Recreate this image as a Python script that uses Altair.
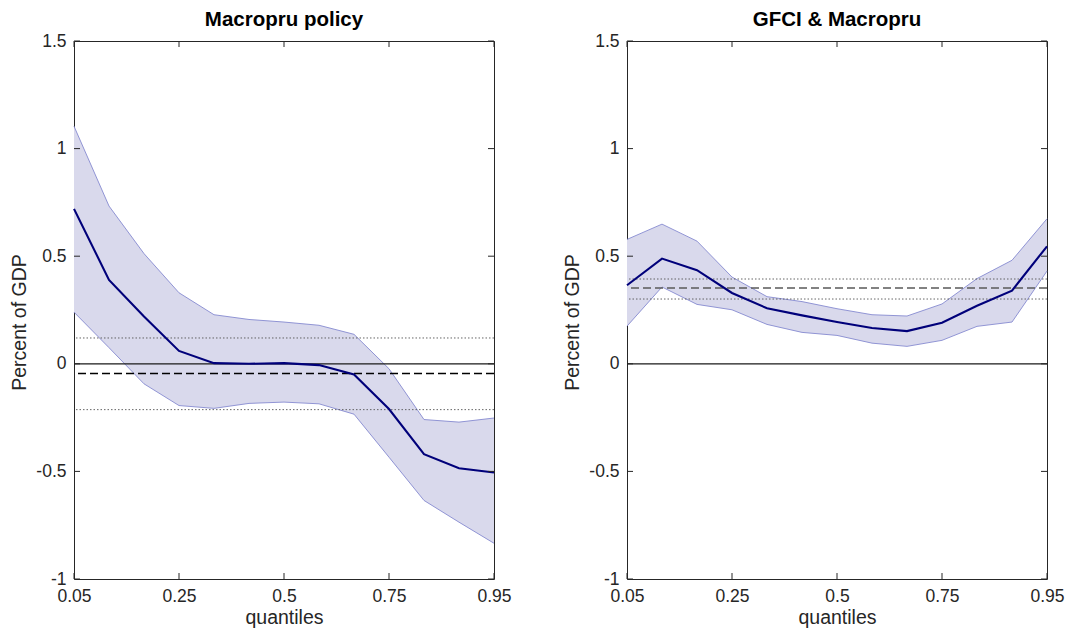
import altair as alt
import pandas as pd

# Quantile grid and axis ticks
QUANTILES = [0.05, 0.125, 0.2, 0.275, 0.35, 0.425, 0.5, 0.575, 0.65, 0.725, 0.8, 0.875, 0.95]
XTICK_POS = [0.05, 0.275, 0.5, 0.725, 0.95]
XTICK_LABELS = ["0.05", "0.25", "0.5", "0.75", "0.95"]
YTICKS = [-1, -0.5, 0, 0.5, 1, 1.5]

# Panel 1: Macropru policy
LEFT_TITLE = "Macropru policy"
LEFT_MEDIAN = [0.72, 0.39, 0.22, 0.06, 0.003, 0.0, 0.003, -0.006, -0.05, -0.21, -0.42, -0.485, -0.505]
LEFT_UPPER = [1.104, 0.733, 0.512, 0.33, 0.228, 0.206, 0.194, 0.179, 0.137, -0.023, -0.259, -0.271, -0.252]
LEFT_LOWER = [0.24, 0.075, -0.093, -0.194, -0.207, -0.184, -0.178, -0.186, -0.234, -0.434, -0.635, -0.736, -0.834]
LEFT_MEAN = -0.045
LEFT_MEAN_BAND = [0.12, -0.213]

# Panel 2: GFCI & Macropru
RIGHT_TITLE = "GFCI & Macropru"
RIGHT_MEDIAN = [0.365, 0.489, 0.435, 0.329, 0.258, 0.225, 0.194, 0.166, 0.152, 0.191, 0.27, 0.34, 0.546]
RIGHT_UPPER = [0.578, 0.649, 0.57, 0.403, 0.312, 0.289, 0.256, 0.228, 0.222, 0.278, 0.396, 0.481, 0.674]
RIGHT_LOWER = [0.175, 0.357, 0.276, 0.251, 0.183, 0.146, 0.132, 0.096, 0.081, 0.109, 0.174, 0.194, 0.431]
RIGHT_MEAN = 0.352
RIGHT_MEAN_BAND = [0.394, 0.301]

W, H = 420, 538
TICK_LEN = 6
FRAME = "#262626"
FONT = "Liberation Sans"

x_label_expr = " : ".join(
    f"abs(datum.value - {p}) < 1e-6 ? '{l}'" for p, l in zip(XTICK_POS, XTICK_LABELS)
) + " : ''"

x_scale = alt.Scale(domain=[0.05, 0.95], nice=False, zero=False)
y_scale = alt.Scale(domain=[-1, 1.5], nice=False, zero=False)

x_axis = alt.Axis(values=XTICK_POS, labelExpr=x_label_expr, ticks=False,
                  domain=False, grid=False, labelPadding=8, titlePadding=4,
                  labelFlush=False)
y_axis = alt.Axis(values=YTICKS, labelExpr="'' + datum.value", ticks=False,
                  domain=False, grid=False, labelPadding=8, titlePadding=6,
                  labelFlush=False, titleY=H / 2 + 12)


def x_enc(field):
    return alt.X(field, type="quantitative", scale=x_scale, title="quantiles", axis=x_axis)


def y_enc(field):
    return alt.Y(field, type="quantitative", scale=y_scale, title="Percent of GDP", axis=y_axis)


def panel(title, med, lo, hi, mean, mean_band, dash_color):
    df = pd.DataFrame({"q": QUANTILES, "med": med, "lo": lo, "hi": hi})
    band = alt.Chart(df).mark_area(color="#d9d9ec", opacity=1).encode(
        x=x_enc("q"), y=y_enc("lo"), y2="hi")
    upper_edge = alt.Chart(df).mark_line(color="#868ad0", strokeWidth=0.9).encode(
        x=x_enc("q"), y=y_enc("hi"))
    lower_edge = alt.Chart(df).mark_line(color="#868ad0", strokeWidth=0.9).encode(
        x=x_enc("q"), y=y_enc("lo"))

    zero = alt.Chart(pd.DataFrame({"v": [0]})).mark_rule(color="#1a1a1a", strokeWidth=1.3).encode(
        y=y_enc("v"))
    dotted = alt.Chart(pd.DataFrame({"v": mean_band})).mark_rule(
        color="#555555", strokeWidth=0.9, strokeDash=[1.5, 2]).encode(y=y_enc("v"))
    dashed = alt.Chart(pd.DataFrame({"v": [mean]})).mark_rule(
        color=dash_color, strokeWidth=1.4, strokeDash=[8, 4]).encode(y=y_enc("v"))

    median = alt.Chart(df).mark_line(color="#00007a", strokeWidth=2.1).encode(
        x=x_enc("q"), y=y_enc("med"))

    # inward-pointing ticks on all four sides of the box
    yt = pd.DataFrame({"v": YTICKS})
    xt = pd.DataFrame({"v": XTICK_POS})
    tick_style = dict(color=FRAME, strokeWidth=1)
    yt_left = alt.Chart(yt).mark_rule(**tick_style).encode(
        y=y_enc("v"), x=alt.value(0), x2=alt.value(TICK_LEN))
    yt_right = alt.Chart(yt).mark_rule(**tick_style).encode(
        y=y_enc("v"), x=alt.value(W), x2=alt.value(W - TICK_LEN))
    xt_bottom = alt.Chart(xt).mark_rule(**tick_style).encode(
        x=x_enc("v"), y=alt.value(H), y2=alt.value(H - TICK_LEN))
    xt_top = alt.Chart(xt).mark_rule(**tick_style).encode(
        x=x_enc("v"), y=alt.value(0), y2=alt.value(TICK_LEN))

    return alt.layer(
        band, upper_edge, lower_edge, zero, dotted, dashed, median,
        yt_left, yt_right, xt_bottom, xt_top,
    ).properties(
        width=W, height=H,
        title=alt.TitleParams(title, fontSize=20.5, fontWeight="bold", font=FONT,
                              color="#000000", offset=2, anchor="middle"),
    )


left = panel(LEFT_TITLE, LEFT_MEDIAN, LEFT_LOWER, LEFT_UPPER, LEFT_MEAN, LEFT_MEAN_BAND, "#000000")
right = panel(RIGHT_TITLE, RIGHT_MEDIAN, RIGHT_LOWER, RIGHT_UPPER, RIGHT_MEAN, RIGHT_MEAN_BAND, "#5a5a5a")

chart = alt.hconcat(left, right, spacing=50).properties(
    padding={"left": 9, "top": 9, "right": 2, "bottom": 2},
    background="white",
).configure_view(
    stroke=FRAME, strokeWidth=1,
).configure_axis(
    labelFont=FONT, titleFont=FONT, labelFontSize=17.5, titleFontSize=19.5,
    labelColor="#262626", titleColor="#262626", titleFontWeight="normal",
)

chart.save("out.html", embed_options={"renderer": "svg", "actions": False})
